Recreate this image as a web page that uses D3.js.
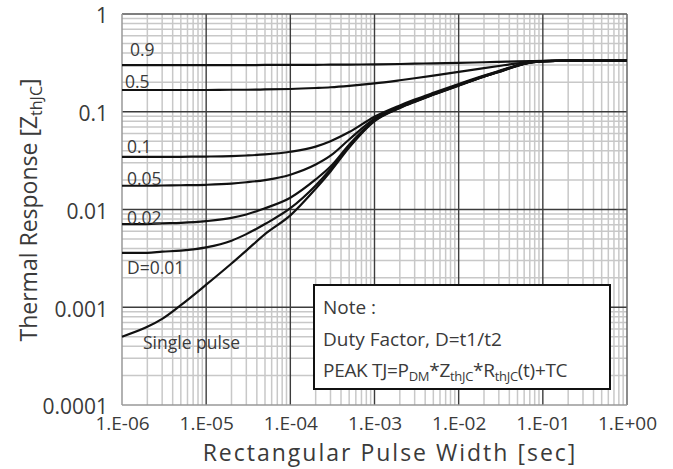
<!DOCTYPE html>
<html><head><meta charset="utf-8">
<script src="https://cdn.jsdelivr.net/npm/d3@7/dist/d3.min.js"></script>
<style>html,body{margin:0;padding:0;background:#fff;}svg{display:block;font-family:"Open Sans",sans-serif;}</style>
</head><body><div id="chart"></div>
<script>
// ---- data ----
const pulseWidth = [1e-6, 2e-6, 3e-6, 5e-6, 1e-5, 2e-5, 3e-5, 5e-5, 1e-4, 2e-4, 3e-4, 5e-4,
  1e-3, 2e-3, 3e-3, 5e-3, 1e-2, 2e-2, 3e-2, 5e-2, 7e-2, 1e-1, 2e-1, 5e-1, 1];
const zSingle = [0.0005, 0.00063, 0.00076, 0.00105, 0.0017, 0.0028, 0.0038, 0.0056, 0.0087, 0.0163, 0.0245, 0.043,
  0.080, 0.109, 0.126, 0.149, 0.185, 0.228, 0.255, 0.295, 0.318, 0.328, 0.333, 0.333, 0.333];
const zD001 = [0.0036, 0.0036, 0.0037, 0.0038, 0.0041, 0.0048, 0.0056, 0.0071, 0.0103, 0.0176, 0.0258, 0.044,
  0.081, 0.110, 0.127, 0.150, 0.186, 0.229, 0.256, 0.296, 0.318, 0.328, 0.333, 0.333, 0.333];
const zD002 = [0.0071, 0.0071, 0.0072, 0.0073, 0.0076, 0.0082, 0.0089, 0.0103, 0.0132, 0.0203, 0.0275, 0.046,
  0.082, 0.111, 0.128, 0.151, 0.187, 0.230, 0.257, 0.297, 0.319, 0.329, 0.333, 0.333, 0.333];
const zD005 = [0.0175, 0.0175, 0.0176, 0.0177, 0.0179, 0.0184, 0.019, 0.020, 0.0227, 0.0288, 0.0355, 0.052,
  0.085, 0.113, 0.130, 0.153, 0.189, 0.232, 0.259, 0.298, 0.319, 0.329, 0.333, 0.333, 0.333];
const zD01 = [0.0345, 0.0345, 0.0345, 0.0346, 0.0348, 0.0352, 0.0357, 0.0366, 0.039, 0.044, 0.050, 0.062,
  0.089, 0.116, 0.133, 0.156, 0.192, 0.234, 0.261, 0.299, 0.320, 0.329, 0.333, 0.333, 0.333];
const zD05 = [0.167, 0.167, 0.167, 0.167, 0.167, 0.168, 0.168, 0.169, 0.171, 0.175, 0.178, 0.184,
  0.195, 0.210, 0.220, 0.234, 0.256, 0.280, 0.294, 0.312, 0.322, 0.330, 0.333, 0.333, 0.333];
const zD09 = [0.300, 0.300, 0.300, 0.300, 0.300, 0.300, 0.300, 0.301, 0.301, 0.302, 0.303, 0.304,
  0.305, 0.308, 0.310, 0.313, 0.316, 0.321, 0.324, 0.328, 0.330, 0.332, 0.333, 0.333, 0.333];
const seriesLabels = ["0.9", "0.5", "0.1", "0.05", "0.02", "D=0.01", "Single pulse"];
const xTickLabels = ["1.E-06", "1.E-05", "1.E-04", "1.E-03", "1.E-02", "1.E-01", "1.E+00"];
const yTickLabels = ["1", "0.1", "0.01", "0.001", "0.0001"];
const xTickValues = [1e-6, 1e-5, 1e-4, 1e-3, 1e-2, 1e-1, 1];
const yTickValues = [1, 0.1, 0.01, 0.001, 0.0001];

// ---- layout ----
const W = 673, H = 469;
const L = 122, R = 627, T = 14, B = 405;
const svg = d3.select("#chart").append("svg").attr("width", W).attr("height", H);
const x = d3.scaleLog().domain([1e-6, 1]).range([L, R]);
const y = d3.scaleLog().domain([1e-4, 1]).range([B, T]);
const textColor = "#3a3a3a";

// grid
const minorX = [], minorY = [];
for (let e = -6; e < 0; e++) for (let k = 2; k <= 9; k++) minorX.push(k * Math.pow(10, e));
for (let e = -4; e < 0; e++) for (let k = 2; k <= 9; k++) minorY.push(k * Math.pow(10, e));
const grid = svg.append("g");
grid.selectAll(".mx").data(minorX).join("line")
  .attr("x1", d => x(d)).attr("x2", d => x(d)).attr("y1", T).attr("y2", B)
  .attr("stroke", "#c8c8c8").attr("stroke-width", 1.5);
grid.selectAll(".my").data(minorY).join("line")
  .attr("y1", d => y(d)).attr("y2", d => y(d)).attr("x1", L).attr("x2", R)
  .attr("stroke", "#c8c8c8").attr("stroke-width", 1.5);
grid.selectAll(".Mx").data(xTickValues.slice(1, -1)).join("line")
  .attr("x1", d => x(d)).attr("x2", d => x(d)).attr("y1", T).attr("y2", B)
  .attr("stroke", "#3c3c3c").attr("stroke-width", 1.4);
grid.selectAll(".My").data(yTickValues.slice(1, -1)).join("line")
  .attr("y1", d => y(d)).attr("y2", d => y(d)).attr("x1", L).attr("x2", R)
  .attr("stroke", "#3c3c3c").attr("stroke-width", 1.4);
// frame
svg.append("line").attr("x1", L).attr("x2", R).attr("y1", T).attr("y2", T).attr("stroke", "#555").attr("stroke-width", 1.5);
svg.append("line").attr("x1", R).attr("x2", R).attr("y1", T).attr("y2", B).attr("stroke", "#666").attr("stroke-width", 1.5);
svg.append("line").attr("x1", L).attr("x2", L).attr("y1", T).attr("y2", B).attr("stroke", "#999").attr("stroke-width", 1.5);
svg.append("line").attr("x1", L).attr("x2", R).attr("y1", B).attr("y2", B).attr("stroke", "#999").attr("stroke-width", 1.5);

// axes tick labels via d3 axes
const xAxis = d3.axisBottom(x).tickValues(xTickValues).tickFormat((d, i) => xTickLabels[i]).tickSize(0).tickPadding(12);
const gx = svg.append("g").attr("transform", `translate(0,${B})`).call(xAxis);
gx.select(".domain").remove();
gx.selectAll("text").attr("font-size", 19).attr("fill", textColor).attr("font-family", "Open Sans");
const yAxis = d3.axisLeft(y).tickValues(yTickValues).tickFormat((d, i) => yTickLabels[i]).tickSize(0).tickPadding(14);
const gy = svg.append("g").attr("transform", `translate(${L},0)`).call(yAxis);
gy.select(".domain").remove();
gy.selectAll("text").attr("font-size", 21).attr("fill", textColor).attr("font-family", "Open Sans").attr("dy", "0.42em");

// axis titles
svg.append("text").attr("x", 390).attr("y", 461).attr("text-anchor", "middle")
  .attr("font-size", 23).attr("letter-spacing", 2).attr("fill", textColor).text("Rectangular Pulse Width [sec]");
const yt = svg.append("text").attr("transform", `translate(37,210) rotate(-90)`)
  .attr("text-anchor", "middle").attr("font-size", 23).attr("fill", textColor);
yt.append("tspan").text("Thermal Response [Z");
yt.append("tspan").attr("font-size", 16).attr("dy", 5).text("thJC");
yt.append("tspan").attr("dy", -5).text("]");

// curves
const allSeries = [zD09, zD05, zD01, zD005, zD002, zD001, zSingle];
const line = d3.line().x(d => x(d[0])).y(d => y(d[1])).curve(d3.curveMonotoneX);
svg.append("g").selectAll("path").data(allSeries).join("path")
  .attr("d", s => line(pulseWidth.map((t, i) => [t, s[i]])))
  .attr("fill", "none").attr("stroke", "#111").attr("stroke-width", 2.2);

// curve labels
const labelPos = [[130, 56], [125, 88], [127, 153], [127, 185], [127, 224], [127, 274], [143, 349]];
svg.append("g").selectAll("text").data(seriesLabels).join("text")
  .attr("x", (d, i) => labelPos[i][0]).attr("y", (d, i) => labelPos[i][1])
  .attr("font-size", 17.5).attr("fill", textColor).text(d => d);

// note box
const note = svg.append("g");
note.append("rect").attr("x", 314).attr("y", 285).attr("width", 296).attr("height", 104)
  .attr("fill", "#fff").attr("stroke", "#111").attr("stroke-width", 2);
note.append("text").attr("x", 323).attr("y", 314).attr("font-size", 19).attr("fill", textColor).text("Note :");
note.append("text").attr("x", 323).attr("y", 346).attr("font-size", 19).attr("fill", textColor).text("Duty Factor, D=t1/t2");
const pk = note.append("text").attr("x", 323).attr("y", 377).attr("font-size", 19).attr("fill", textColor)
  .attr("letter-spacing", -0.3);
pk.append("tspan").text("PEAK TJ=P");
pk.append("tspan").attr("font-size", 13).attr("dy", 4).text("DM");
pk.append("tspan").attr("dy", -4).text("*Z");
pk.append("tspan").attr("font-size", 13).attr("dy", 4).text("thJC");
pk.append("tspan").attr("dy", -4).text("*R");
pk.append("tspan").attr("font-size", 13).attr("dy", 4).text("thJC");
pk.append("tspan").attr("dy", -4).text("(t)+TC");
</script></body></html>
